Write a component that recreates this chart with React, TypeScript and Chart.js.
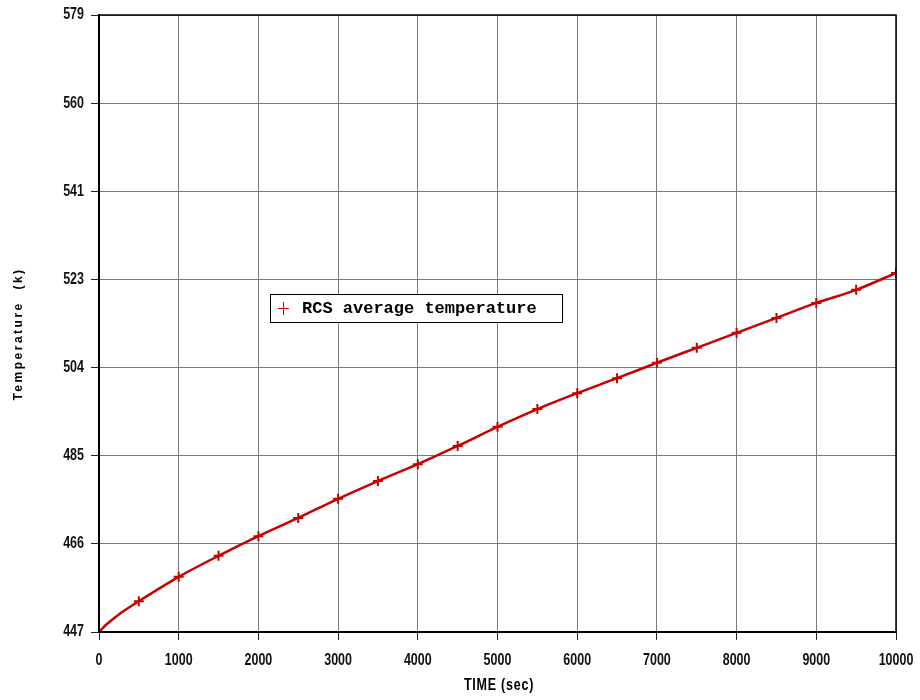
import React, { useEffect, useRef } from "react";
import { Chart, registerables } from "chart.js";

Chart.register(...registerables);

const seriesLabel = "RCS average temperature";
const markerTimes = [500, 1000, 1500, 2000, 2500, 3000, 3500, 4000, 4500, 5000, 5500, 6000, 6500, 7000, 7500, 8000, 8500, 9000, 9500, 10000];
const markerTemps = [453.6, 458.8, 463.3, 467.5, 471.4, 475.5, 479.3, 482.9, 486.8, 490.9, 494.7, 498.1, 501.3, 504.6, 507.8, 511.0, 514.2, 517.4, 520.2, 523.8];
const startTimes = [0, 50, 100, 200, 300, 400];
const startTemps = [447, 447.9, 448.7, 450.1, 451.4, 452.5];
const yTickLabels = ["447", "466", "485", "504", "523", "541", "560", "579"];
const yMin = 447;
const yMax = 579;
const xMin = 0;
const xMax = 10000;
const xStep = 1000;
const xTitle = "TIME (sec)";
const yTitle = "Temperature  (k)";

const RED = "#c80000";
const NARROW = 0.78;
const LABEL_FONT = "bold 16px 'Liberation Sans', Arial, sans-serif";

function drawNarrow(ctx: CanvasRenderingContext2D, text: string, x: number, y: number, align: "left" | "right" | "center") {
  ctx.save();
  ctx.translate(x, y);
  ctx.scale(NARROW, 1);
  ctx.textAlign = align;
  ctx.textBaseline = "middle";
  ctx.fillText(text, 0, 0);
  ctx.restore();
}

export default function App() {
  const ref = useRef<HTMLCanvasElement | null>(null);
  useEffect(() => {
    if (!ref.current) return;
    const lineTimes = [...startTimes, ...markerTimes];
    const lineTemps = [...startTemps, ...markerTemps];

    const framePlugin = {
      id: "frameAndLegend",
      afterDraw(chart: any) {
        const { ctx, chartArea } = chart;
        ctx.save();
        ctx.strokeStyle = "#000";
        ctx.lineWidth = 1.5;
        ctx.strokeRect(chartArea.left, chartArea.top, chartArea.right - chartArea.left, chartArea.bottom - chartArea.top);
        ctx.lineWidth = 2;
        ctx.beginPath();
        ctx.moveTo(chartArea.left, chartArea.top);
        ctx.lineTo(chartArea.left, chartArea.bottom);
        ctx.lineTo(chartArea.right, chartArea.bottom);
        ctx.stroke();

        // tick labels from the chart's own scales (narrow, bold)
        const xs = chart.scales.x;
        const ys = chart.scales.y;
        ctx.fillStyle = "#111";
        ctx.font = LABEL_FONT;
        xs.ticks.forEach((t: any) => {
          drawNarrow(ctx, String(t.value), xs.getPixelForValue(t.value), 661, "center");
        });
        ys.ticks.forEach((t: any, i: number) => {
          drawNarrow(ctx, yTickLabels[i], 84, ys.getPixelForValue(t.value), "right");
        });

        // legend box
        const bx = 270, by = 294, bw = 292, bh = 28;
        ctx.fillStyle = "#fff";
        ctx.fillRect(bx, by, bw, bh);
        ctx.strokeStyle = "#000";
        ctx.lineWidth = 1;
        ctx.strokeRect(bx + 0.5, by + 0.5, bw, bh);
        ctx.strokeStyle = RED;
        ctx.lineWidth = 1;
        ctx.beginPath();
        ctx.moveTo(283.5, 302);
        ctx.lineTo(283.5, 315);
        ctx.moveTo(278, 308.5);
        ctx.lineTo(289, 308.5);
        ctx.stroke();
        ctx.fillStyle = "#000";
        ctx.font = "bold 17px 'Liberation Mono', 'Courier New', monospace";
        ctx.textBaseline = "middle";
        ctx.textAlign = "left";
        ctx.fillText(chart.data.datasets[1].label, 302, 309);

        // axis titles
        ctx.fillStyle = "#000";
        ctx.font = "bold 16px 'Liberation Sans', Arial, sans-serif";
        (ctx as any).letterSpacing = "1px";
        drawNarrow(ctx, xTitle, 499, 686, "center");
        (ctx as any).letterSpacing = "0px";
        ctx.save();
        ctx.translate(19, 334);
        ctx.rotate(-Math.PI / 2);
        ctx.font = "bold 12px 'Liberation Sans', Arial, sans-serif";
        (ctx as any).letterSpacing = "2.5px";
        ctx.textAlign = "center";
        ctx.textBaseline = "middle";
        ctx.fillText(yTitle, 0, 0);
        ctx.restore();
        ctx.restore();
      },
    };

    const gridOpts: any = {
      color: "#7a7a7a",
      lineWidth: 1,
      tickLength: 8,
      tickColor: "#222",
      tickWidth: 1,
      borderDash: [1, 1],
      tickBorderDash: [],
    };

    const chart = new Chart(ref.current, {
      type: "line",
      data: {
        datasets: [
          {
            label: "curve",
            data: lineTimes.map((t, i) => ({ x: t, y: lineTemps[i] })),
            borderColor: RED,
            borderWidth: 2.5,
            pointRadius: 0,
            cubicInterpolationMode: "monotone",
            fill: false,
          },
          {
            label: seriesLabel,
            data: markerTimes.map((t, i) => ({ x: t, y: markerTemps[i] })),
            showLine: false,
            pointStyle: "cross",
            pointRadius: 5,
            pointBorderWidth: 2,
            pointBorderColor: RED,
            pointBackgroundColor: RED,
            borderColor: RED,
          },
        ],
      },
      options: {
        animation: false,
        responsive: false,
        devicePixelRatio: 1,
        layout: { padding: { top: 15, right: 24, left: 0, bottom: 0 } },
        plugins: { legend: { display: false }, tooltip: { enabled: false } },
        scales: {
          x: {
            type: "linear",
            min: xMin,
            max: xMax,
            ticks: {
              stepSize: xStep,
              display: false,
              callback: (v: any) => String(v),
            },
            grid: gridOpts,
            border: { display: true, color: "#000", width: 2 },
            afterFit(scale: any) {
              scale.height = 68;
              scale.paddingRight = 0;
              scale.paddingLeft = 0;
            },
          },
          y: {
            type: "linear",
            min: yMin,
            max: yMax,
            afterBuildTicks(scale: any) {
              const n = yTickLabels.length - 1;
              scale.ticks = yTickLabels.map((_, i) => ({ value: yMin + ((yMax - yMin) * i) / n }));
            },
            ticks: {
              display: false,
              callback: (_v: any, i: number) => yTickLabels[i],
            },
            grid: gridOpts,
            border: { display: true, color: "#000", width: 2 },
            afterFit(scale: any) {
              scale.width = 99;
              scale.paddingTop = 0;
              scale.paddingBottom = 0;
            },
          },
        },
      },
      plugins: [framePlugin],
    } as any);
    return () => chart.destroy();
  }, []);

  return (
    <div style={{ position: "absolute", left: 0, top: 0, width: 920, height: 700, background: "#fff" }}>
      <canvas ref={ref} width={920} height={700} />
    </div>
  );
}
